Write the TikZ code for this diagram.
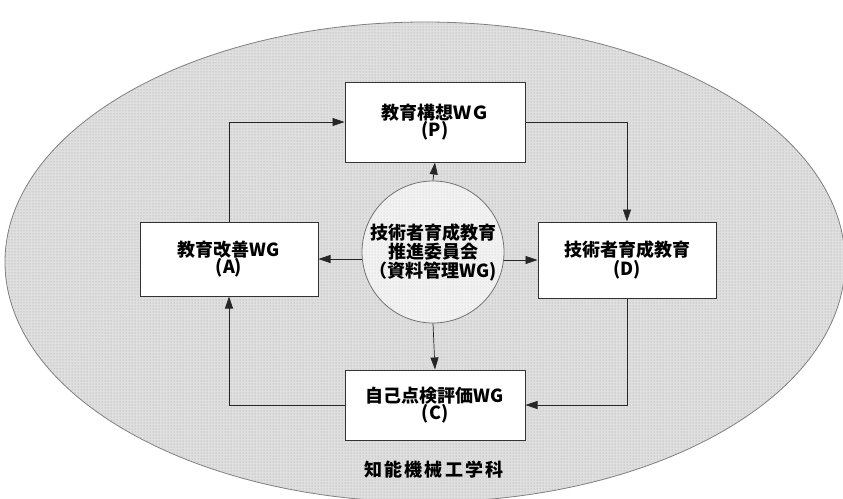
\documentclass[tikz,border=0pt]{standalone}
\usepackage{fontspec}
\newfontfamily\jp{Noto Sans CJK JP}
\newfontfamily\jpsp{Noto Sans CJK JP}[LetterSpace=12]
\usetikzlibrary{arrows.meta,patterns}
\begin{document}
\begin{tikzpicture}[x=1pt,y=-1pt,
  box/.style={draw=black!80, line width=1pt, fill=white, align=center,
    font=\jp\bfseries\fontsize{18}{17}\selectfont, inner sep=0pt},
  hub/.style={circle, draw=black!55, line width=0.8pt, align=center,
    preaction={fill=gray!10}, pattern=dots, pattern color=gray!45,
    minimum size=142pt, inner sep=0pt,
    font=\jp\bfseries\fontsize{18}{19}\selectfont},
  arr/.style={draw=black!85, line width=0.7pt, -{Triangle[length=12pt,width=8pt]}}]
\useasboundingbox (0,0) rectangle (843,498);
\clip (0,0) rectangle (843,498);
\fill[white] (0,0) rectangle (843,498);
% department ellipse
\path[draw=black!50, line width=0.8pt, preaction={fill=gray!25},
  pattern=dots, pattern color=gray!75] (425,262) ellipse [x radius=420, y radius=240];
% nodes
\node[box, minimum width=180pt, minimum height=80pt] (P) at (435,122) {教育構想ＷＧ\\(P)};
\node[box, minimum width=178pt, minimum height=74pt] (A) at (229,259) {教育改善WG\\(A)};
\node[box, minimum width=178pt, minimum height=76pt] (D) at (627,260) {技術者育成教育\\(D)};
\node[box, minimum width=180pt, minimum height=70pt] (C) at (435,405) {自己点検評価WG\\(C)};
\node[hub] (M) at (433,252) {技術者育成教育\\推進委員会\\（資料管理WG)};
\node[font=\jpsp\bfseries\fontsize{18}{18}\selectfont] (L) at (434,470) {知能機械工学科};
% cycle connectors
\draw[arr] (A.north) |- (P.west);
\draw[arr] (P.east) -| (D.north);
\draw[arr] (D.south) |- (C.east);
\draw[arr] (C.west) -| (A.south);
% hub connectors
\draw[arr] (M.north) -- (P.south);
\draw[arr] (M.south) -- (C.north);
\draw[arr] (M.west |- A.east) -- (A.east);
\draw[arr] (M.east |- D.west) -- (D.west);
\end{tikzpicture}
\end{document}
